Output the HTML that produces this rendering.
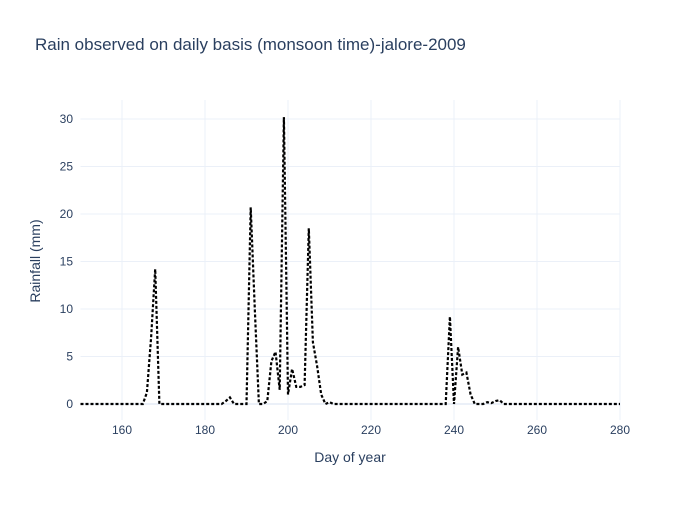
<!DOCTYPE html>
<html><head><meta charset="utf-8"><style>
body{margin:0;background:#fff;}
svg{font-family:"Liberation Sans",sans-serif;}
</style></head><body>
<svg id="chart" width="700" height="500">
<text x="35" y="50" font-size="17" fill="#2a3f5f">Rain observed on daily basis (monsoon time)-jalore-2009</text>
<g id="grid"></g>
<g id="ticks"></g>
<path id="line" fill="none" stroke="#000" stroke-width="2.2" stroke-dasharray="3,2"></path>
<text x="350" y="462" font-size="14" fill="#2a3f5f" text-anchor="middle">Day of year</text>
<text transform="translate(40,261) rotate(-90)" font-size="14" fill="#2a3f5f" text-anchor="middle">Rainfall (mm)</text>
</svg>
<script>
const startDay = 150;
const rain = {165:0,166:1.2,167:7,168:14.2,169:0,185:0.3,186:0.7,187:0,190:0,191:20.7,192:10,193:0,194:0,195:0.3,196:4.5,197:5.5,198:1.5,199:30.2,200:1,201:3.7,202:1.8,203:1.8,204:2,205:18.5,206:6.5,207:4,208:1,209:0,210:0.2,211:0,238:0,239:9.2,240:0,241:6,242:3.1,243:3.3,244:1,245:0,248:0.2,249:0.1,250:0.3,251:0.4,252:0};
const days = [];
const values = [];
for (let d = 150; d <= 280; d++) { days.push(d); values.push(rain[d] !== undefined ? rain[d] : 0); }
const xTicks = [160, 180, 200, 220, 240, 260, 280];
const yTicks = [0, 5, 10, 15, 20, 25, 30];

const X0 = 80.5, X1 = 620, Y0 = 404, Y1 = 119;
const xs = d => X0 + (d - 150) / 130 * (X1 - X0);
const ys = v => Y0 + v / 30 * (Y1 - Y0);
const NS = "http://www.w3.org/2000/svg";
const grid = document.getElementById('grid'), ticks = document.getElementById('ticks');
yTicks.forEach(t => {
  const l = document.createElementNS(NS, 'line');
  l.setAttribute('x1', X0); l.setAttribute('x2', X1); l.setAttribute('y1', ys(t)); l.setAttribute('y2', ys(t));
  l.setAttribute('stroke', '#ebf0f8'); l.setAttribute('stroke-width', t === 0 ? 2 : 1);
  
  
  grid.appendChild(l);
  const tx = document.createElementNS(NS, 'text');
  tx.setAttribute('x', 73); tx.setAttribute('y', ys(t) + 4); tx.setAttribute('text-anchor', 'end');
  tx.setAttribute('font-size', '12'); tx.setAttribute('fill', '#2a3f5f'); tx.textContent = t;
  
  
  ticks.appendChild(tx);
});
xTicks.forEach(t => {
  const l = document.createElementNS(NS, 'line');
  l.setAttribute('x1', xs(t)); l.setAttribute('x2', xs(t)); l.setAttribute('y1', 100); l.setAttribute('y2', 420);
  l.setAttribute('stroke', '#ebf0f8'); l.setAttribute('stroke-width', 1);
  
  
  grid.appendChild(l);
  const tx = document.createElementNS(NS, 'text');
  tx.setAttribute('x', xs(t)); tx.setAttribute('y', 434); tx.setAttribute('text-anchor', 'middle');
  tx.setAttribute('font-size', '12'); tx.setAttribute('fill', '#2a3f5f'); tx.textContent = t;
  
  
  ticks.appendChild(tx);
});
document.getElementById('line').setAttribute('d', days.map((d, i) => (i ? 'L' : 'M') + xs(d).toFixed(1) + ',' + ys(values[i]).toFixed(1)).join(''));
</script>
</body></html>
